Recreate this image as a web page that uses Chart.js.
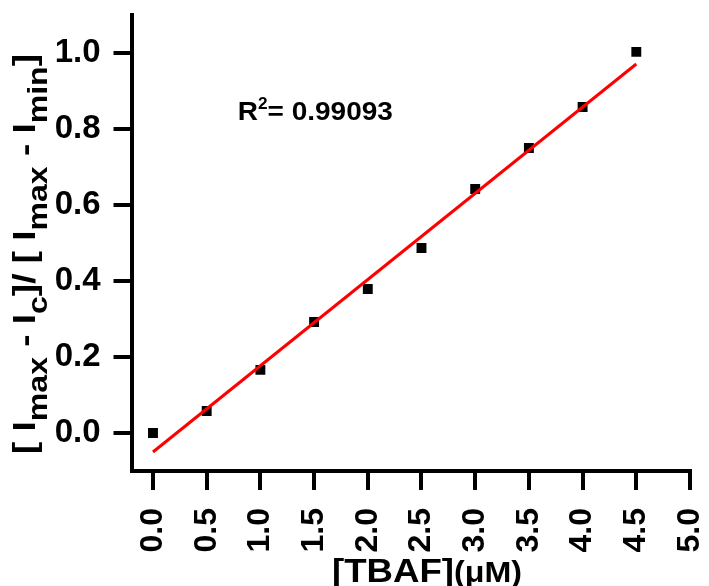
<!DOCTYPE html>
<html lang="en">
<head>
<meta charset="UTF-8">
<title>TBAF titration</title>
<script src="https://cdn.jsdelivr.net/npm/chart.js@4.4.0/dist/chart.umd.min.js"></script>
<style>
  body { margin: 0; background: white; }
  #wrap { width: 709px; height: 586px; }
</style>
</head>
<body>
<div id="wrap"><canvas id="myChart"></canvas></div>
<script>
// data
const tbaf  = [0.0, 0.5, 1.0, 1.5, 2.0, 2.5, 3.0, 3.5, 4.0, 4.5];
const ratio = [0.000, 0.058, 0.166, 0.292, 0.379, 0.487, 0.642, 0.750, 0.858, 1.003];
// linear fit end points
const fitX = [0.0, 4.5];
const fitY = [-0.050, 0.971];
const xTicks = [0.0, 0.5, 1.0, 1.5, 2.0, 2.5, 3.0, 3.5, 4.0, 4.5, 5.0];
const yTicks = [0.0, 0.2, 0.4, 0.6, 0.8, 1.0];
const r2Value = '0.99093';

const FONT = "'Liberation Sans', Arial, sans-serif";

// draws text runs (normal / subscript / superscript) one after another,
// stretched along the text direction to the wanted length
function drawRuns(ctx, runs, x, y, align, len) {
    let total = 0;
    runs.forEach(r => {
        ctx.font = r.font;
        r.w = ctx.measureText(r.t).width;
        total += r.w;
    });
    const k = len ? len / total : 1;
    ctx.save();
    ctx.translate(x, y);
    ctx.scale(k, 1);
    let cx = align === 'center' ? -total / 2 : 0;
    runs.forEach(r => {
        ctx.font = r.font;
        ctx.fillText(r.t, cx, r.dy || 0);
        cx += r.w;
    });
    ctx.restore();
}

const titles = {
    id: 'titles',
    afterDraw(chart) {
        const ctx = chart.ctx;
        const xs = chart.scales.x, ys = chart.scales.y;
        ctx.save();
        ctx.fillStyle = 'black';
        ctx.textBaseline = 'alphabetic';
        ctx.textAlign = 'left';

        // y title, rotated
        const m = 'bold 31px ' + FONT, s = 'bold 27px ' + FONT;
        ctx.save();
        ctx.translate(35, 254);
        ctx.rotate(-Math.PI / 2);
        drawRuns(ctx, [
            {t: '[ I', font: m}, {t: 'max', font: s, dy: 12},
            {t: ' - I', font: m}, {t: 'c', font: s, dy: 12},
            {t: ']/ [ I', font: m}, {t: 'max', font: s, dy: 12},
            {t: ' - I', font: m}, {t: 'min', font: s, dy: 12},
            {t: ']', font: m}
        ], 0, 0, 'center', 400);
        ctx.restore();

        // x title
        drawRuns(ctx, [
            {t: '[TBAF]', font: 'bold 33px ' + FONT},
            {t: '(\u03BCM)', font: 'bold 29px ' + FONT}
        ], 427, 582, 'center', 190);

        // R^2 label
        drawRuns(ctx, [
            {t: 'R', font: 'bold 26px ' + FONT},
            {t: '2', font: 'bold 16px ' + FONT, dy: -11},
            {t: '= ' + r2Value, font: 'bold 26px ' + FONT}
        ], xs.getPixelForValue(0.79), ys.getPixelForValue(0.824), 'left', 155);
        ctx.restore();
    }
};

function noPad(sc) {
    sc.paddingLeft = 0; sc.paddingRight = 0;
    sc.paddingTop = 0; sc.paddingBottom = 0;
}

const ctx = document.getElementById('myChart').getContext('2d');
const myChart = new Chart(ctx, {
    type: 'scatter',
    data: {
        datasets: [{
            label: 'fit',
            data: fitX.map((x, i) => ({x: x, y: fitY[i]})),
            showLine: true,
            borderColor: '#ff0000',
            borderWidth: 3,
            pointRadius: 0,
            order: 0
        }, {
            label: 'data',
            data: tbaf.map((x, i) => ({x: x, y: ratio[i]})),
            pointStyle: 'rect',
            pointRadius: 7,
            backgroundColor: 'black',
            borderColor: 'black',
            borderWidth: 0,
            order: 1
        }]
    },
    options: {
        responsive: true,
        maintainAspectRatio: false,
        animation: false,
        layout: { padding: { left: 0, top: 15, right: 19, bottom: 0 } },
        plugins: { legend: { display: false }, tooltip: { enabled: false } },
        scales: {
            x: {
                type: 'linear',
                min: -0.2,
                max: 5.0,
                afterBuildTicks: sc => { sc.ticks = xTicks.map(v => ({value: v})); },
                afterFit: sc => { sc.height = 115; noPad(sc); },
                border: { display: true, color: 'black', width: 4 },
                grid: { drawOnChartArea: false, color: 'black', lineWidth: 4, tickLength: 19 },
                ticks: {
                    autoSkip: false,
                    minRotation: 90,
                    maxRotation: 90,
                    padding: 18,
                    color: 'black',
                    font: { family: FONT, size: 32, weight: 'bold' },
                    callback: v => v.toFixed(1)
                }
            },
            y: {
                type: 'linear',
                min: -0.1,
                max: 1.1,
                afterBuildTicks: sc => { sc.ticks = yTicks.map(v => ({value: v})); },
                afterFit: sc => { sc.width = 131.5; noPad(sc); },
                border: { display: true, color: 'black', width: 4 },
                grid: { drawOnChartArea: false, color: 'black', lineWidth: 4, tickLength: 18 },
                ticks: {
                    padding: 13,
                    color: 'black',
                    font: { family: FONT, size: 33, weight: 'bold' },
                    callback: v => v.toFixed(1)
                }
            }
        }
    },
    plugins: [titles]
});
</script>
</body>
</html>
